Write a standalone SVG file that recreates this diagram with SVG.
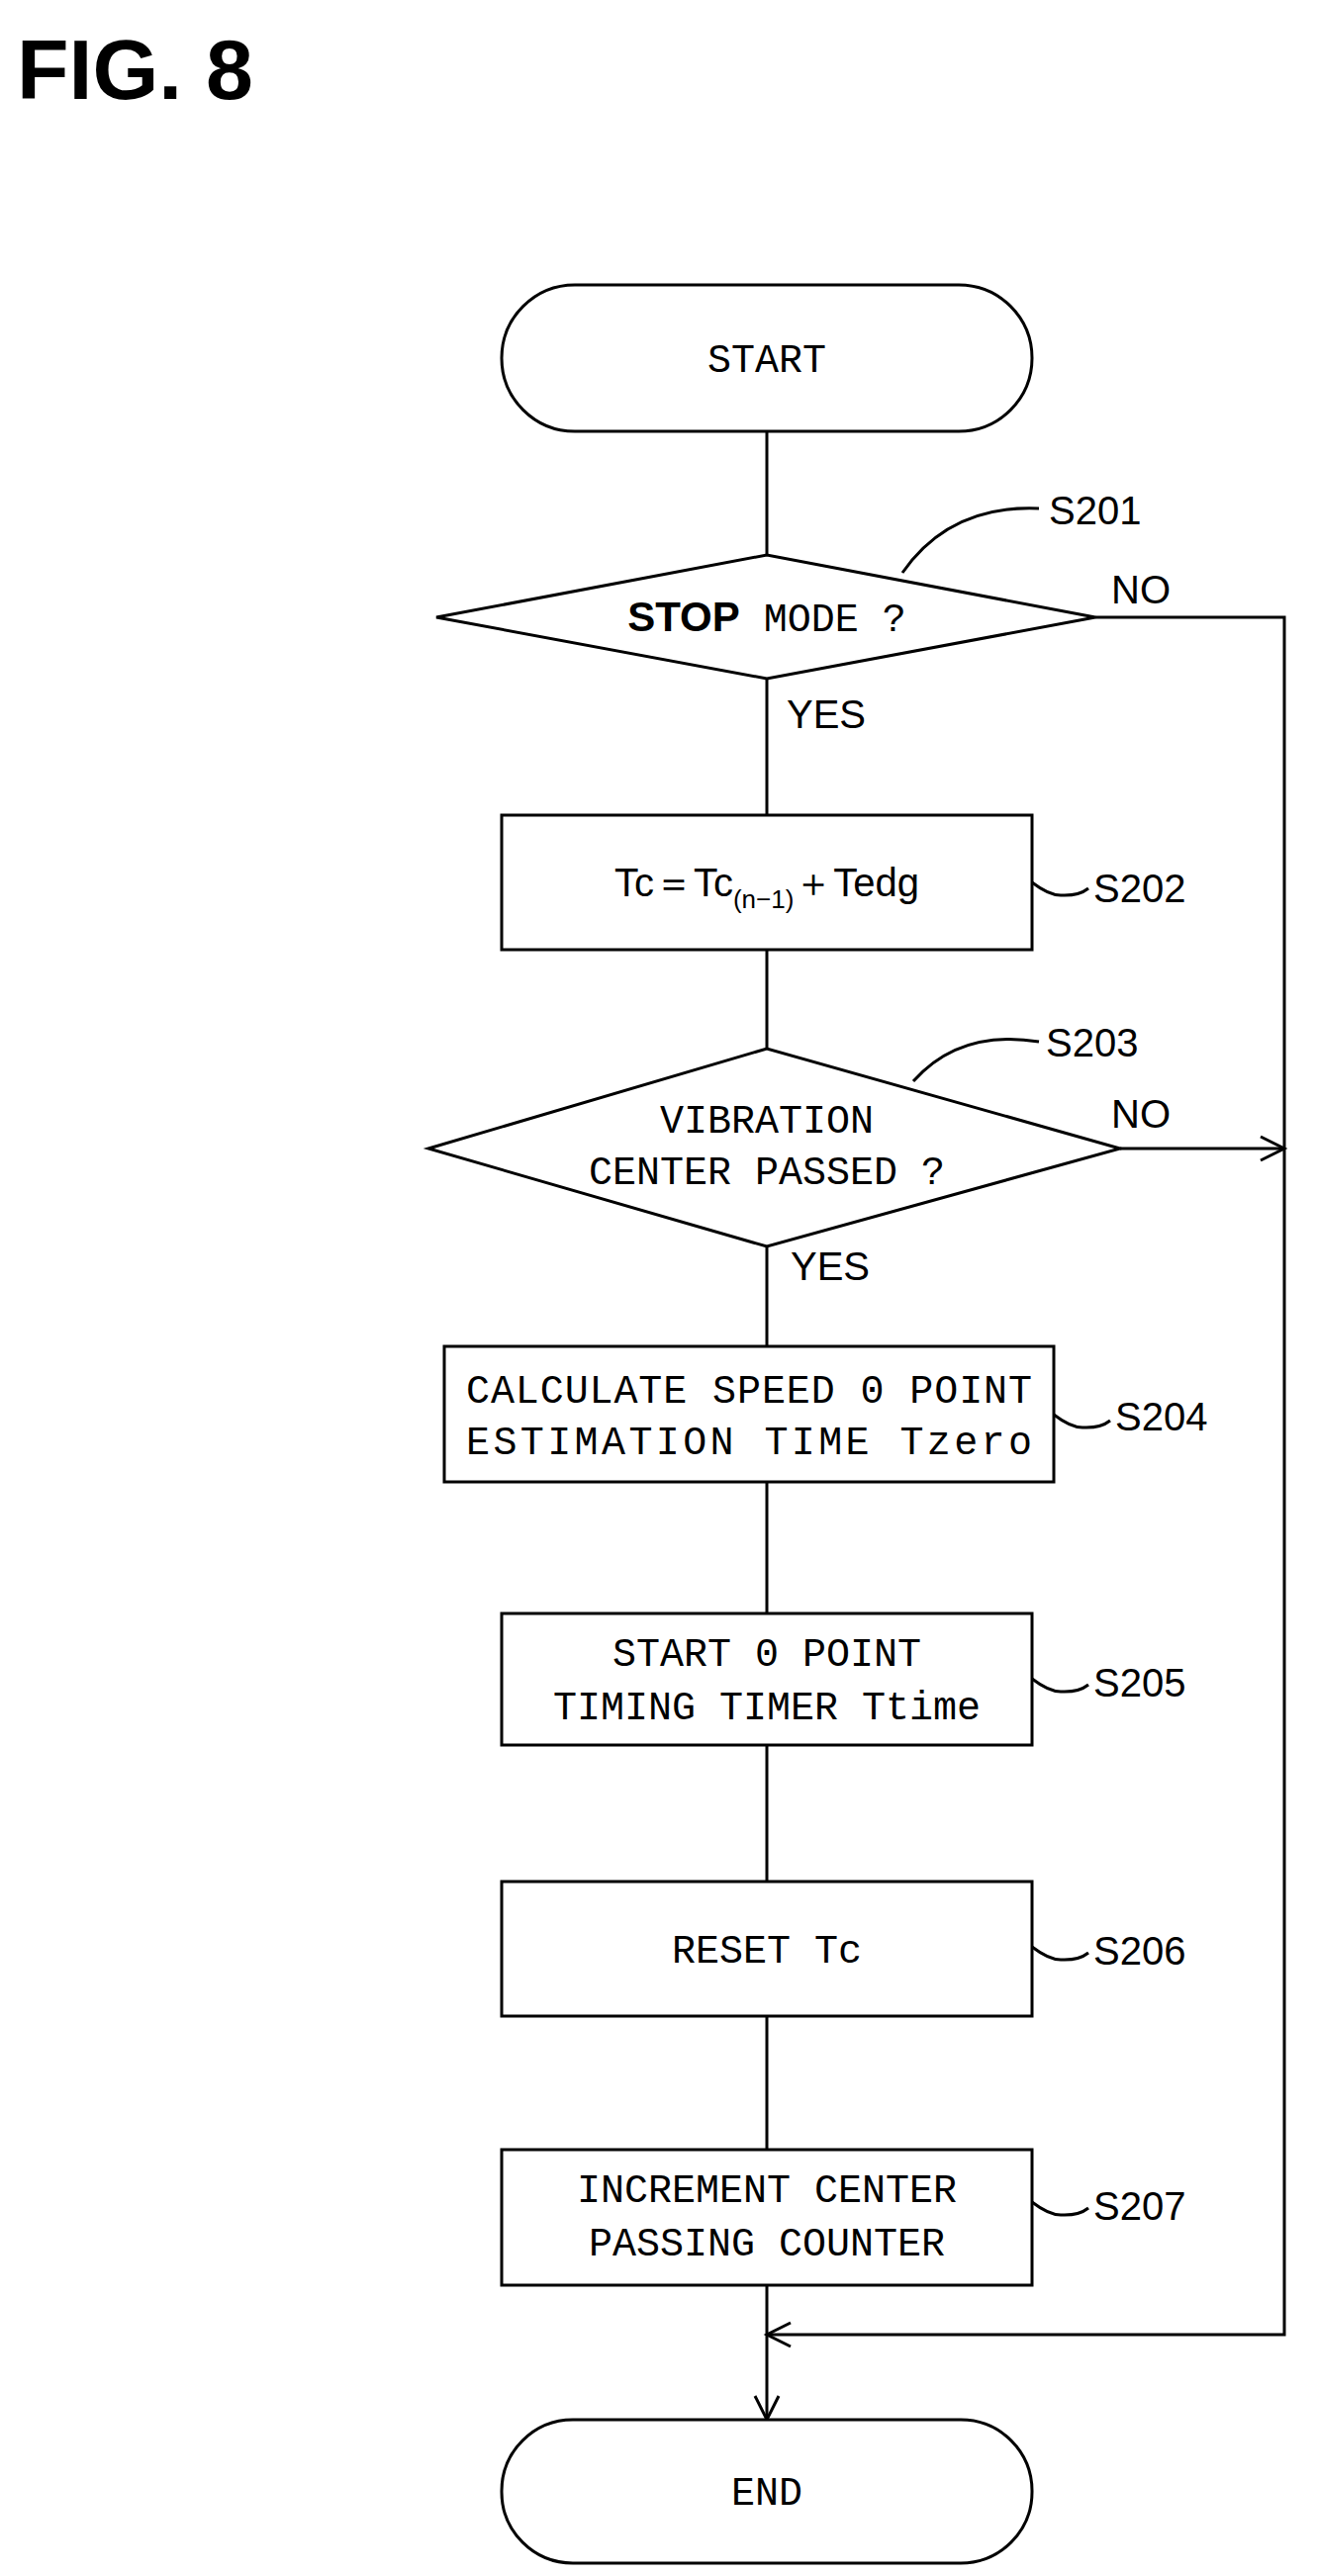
<svg xmlns="http://www.w3.org/2000/svg" width="1331" height="2604" viewBox="0 0 1331 2604">
<style>
.s{fill:#fff;stroke:#000;stroke-width:3}
.l{fill:none;stroke:#000;stroke-width:3}
.t{font-family:"Liberation Mono",monospace;font-size:40px;text-anchor:middle;fill:#000}
.r{font-family:"Liberation Sans",sans-serif;font-size:40px;fill:#000}
</style>
<defs>
<marker id="a" markerWidth="30" markerHeight="30" refX="26" refY="15" orient="auto" markerUnits="userSpaceOnUse">
<path d="M2,3 L26,15 L2,27" fill="none" stroke="#000" stroke-width="3"/>
</marker>
</defs>
<text x="17" y="100" style="font-family:'Liberation Sans',sans-serif;font-weight:bold;font-size:86px">FIG. 8</text>
<g id="connectors">
<line class="l" x1="775" y1="436" x2="775" y2="561"/>
<line class="l" x1="775" y1="686" x2="775" y2="824"/>
<line class="l" x1="775" y1="960" x2="775" y2="1060"/>
<line class="l" x1="775" y1="1260" x2="775" y2="1361"/>
<line class="l" x1="775" y1="1498" x2="775" y2="1631"/>
<line class="l" x1="775" y1="1764" x2="775" y2="1902"/>
<line class="l" x1="775" y1="2038" x2="775" y2="2173"/>
<line class="l" x1="775" y1="2310" x2="775" y2="2446" marker-end="url(#a)"/>
<polyline class="l" points="1107,624 1298,624 1298,2360 775,2360" marker-end="url(#a)"/>
<line class="l" x1="1132" y1="1161" x2="1298" y2="1161" marker-end="url(#a)"/>
<path class="l" d="M912,579 Q960,510 1050,514"/>
<path class="l" d="M923,1093 Q970,1040 1050,1053"/>
<path class="l" d="M1043,892 Q1060,905 1072,905 Q1090,906 1100,898" stroke-width="2"/>
<path class="l" d="M1065,1430 Q1082,1443 1094,1443 Q1112,1444 1122,1436" stroke-width="2"/>
<path class="l" d="M1043,1697 Q1060,1710 1072,1710 Q1090,1711 1100,1703" stroke-width="2"/>
<path class="l" d="M1043,1968 Q1060,1981 1072,1981 Q1090,1982 1100,1974" stroke-width="2"/>
<path class="l" d="M1043,2226 Q1060,2239 1072,2239 Q1090,2240 1100,2232" stroke-width="2"/>
</g>
<g id="start"><rect class="s" x="507" y="288" width="536" height="148" rx="74"/><text class="t" x="775" y="376">START</text></g>
<g id="s201"><polygon class="s" points="441,624 775,561 1107,624 775,686"/>
<text x="775" y="638" text-anchor="middle"><tspan style="font-family:'Liberation Sans',sans-serif;font-weight:bold;font-size:42px">STOP</tspan><tspan class="t" style="text-anchor:start"> MODE ?</tspan></text>
<text class="r" x="1060" y="530">S201</text><text class="r" x="1123" y="610">NO</text><text class="r" x="795" y="736">YES</text></g>
<g id="s202"><rect class="s" x="507" y="824" width="536" height="136"/>
<text x="775" y="906" text-anchor="middle" class="r" style="text-anchor:middle">Tc＝Tc<tspan font-size="26" dy="12">(n−1)</tspan><tspan dy="-12">＋Tedg</tspan></text>
<text class="r" x="1105" y="912">S202</text></g>
<g id="s203"><polygon class="s" points="433,1161 775,1060 1132,1161 775,1260"/>
<text class="t" x="775" y="1145">VIBRATION</text><text class="t" x="775" y="1197">CENTER PASSED ?</text>
<text class="r" x="1057" y="1068">S203</text><text class="r" x="1123" y="1140">NO</text><text class="r" x="799" y="1294">YES</text></g>
<g id="s204"><rect class="s" x="449" y="1361" width="616" height="137"/>
<text class="t" x="757" y="1418" textLength="572">CALCULATE SPEED 0 POINT</text><text class="t" x="757" y="1470" textLength="572">ESTIMATION TIME Tzero</text>
<text class="r" x="1127" y="1446">S204</text></g>
<g id="s205"><rect class="s" x="507" y="1631" width="536" height="133"/>
<text class="t" x="775" y="1684">START 0 POINT</text><text class="t" x="775" y="1738">TIMING TIMER Ttime</text>
<text class="r" x="1105" y="1715">S205</text></g>
<g id="s206"><rect class="s" x="507" y="1902" width="536" height="136"/>
<text class="t" x="775" y="1984">RESET Tc</text>
<text class="r" x="1105" y="1986">S206</text></g>
<g id="s207"><rect class="s" x="507" y="2173" width="536" height="137"/>
<text class="t" x="775" y="2226">INCREMENT CENTER</text><text class="t" x="775" y="2280">PASSING COUNTER</text>
<text class="r" x="1105" y="2244">S207</text></g>
<g id="end"><rect class="s" x="507" y="2446" width="536" height="145" rx="72"/><text class="t" x="775" y="2532">END</text></g>
</svg>
